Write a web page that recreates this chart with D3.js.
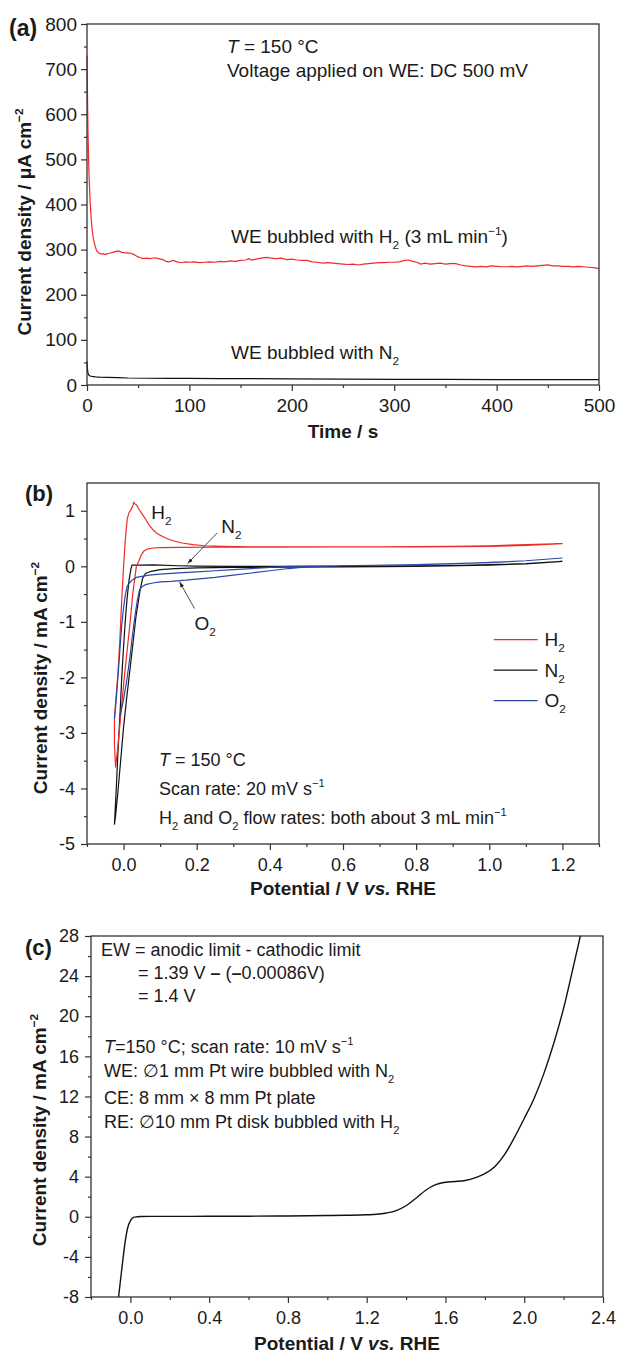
<!DOCTYPE html>
<html>
<head>
<meta charset="utf-8">
<script src="https://cdn.jsdelivr.net/npm/d3@7/dist/d3.min.js"></script>
<style>
  body { margin: 0; background: #fff; }
  text { font-family: 'Liberation Sans', Arial, sans-serif; fill: #1a1a1a; }
</style>
</head>
<body>
<svg width="617" height="1353"></svg>
<script>
// ---- data ----
// (a) chronoamperometry, [time s, current uA cm-2]
const h2Trace = [[0,730],[0.5,640],[1,560],[1.5,505],[2,465],[3,410],[4,372],[5,345],[6,328],[7,316],[8,307],[9,301],[10,296],[12,292],[14,290],[16,291],[18,289],[20,291],[22,292],[25,294],[28,296],[31,297],[34,294],[37,293],[40,293],[43,292],[46,289],[49,285],[52,282],[55,280],[58,281],[62,280],[66,282],[70,280],[74,278],[77,274],[80,273],[84,276],[88,273],[92,271],[96,273],[100,272],[105,273],[110,271],[115,272],[120,273],[125,272],[130,274],[135,273],[140,275],[145,274],[150,276],[155,277],[158,280],[161,277],[165,279],[170,281],[175,283],[180,281],[185,280],[190,281],[195,278],[200,279],[205,277],[210,276],[215,276],[220,273],[225,272],[230,270],[235,271],[240,270],[245,269],[250,268],[255,267],[260,268],[265,266],[270,268],[275,269],[280,270],[285,271],[290,271],[295,272],[300,272],[305,273],[310,276],[314,277],[318,274],[322,272],[326,268],[330,270],[335,268],[340,269],[345,270],[350,268],[355,269],[360,269],[365,266],[370,264],[375,263],[380,262],[385,263],[390,262],[395,264],[400,263],[405,262],[410,262],[415,263],[420,262],[425,263],[430,264],[435,263],[440,264],[445,265],[450,266],[455,264],[460,264],[465,263],[470,263],[475,262],[480,263],[485,262],[490,261],[495,260],[500,258]];
const n2Trace = [[0,52],[0.3,40],[0.7,30],[1,26],[1.5,23],[2,21.5],[3,20],[5,19],[8,18],[12,17.5],[20,17],[30,16.5],[40,15.5],[60,15],[80,14.5],[100,14.5],[130,14],[160,14],[200,13.5],[250,13],[300,12.5],[350,12.5],[400,12],[450,12],[500,12]];

// (b) cyclic voltammograms, [potential V, current mA cm-2]
const cvH2 = [[-0.025,-2.75],[-0.02,-2.3],[-0.015,-1.9],[-0.01,-1.3],[-0.005,-0.6],[0.0,0.0],[0.005,0.5],[0.01,0.85],[0.015,0.97],[0.02,1.02],[0.025,1.08],[0.028,1.15],[0.032,1.12],[0.036,1.1],[0.04,1.05],[0.045,1.0],[0.05,0.95],[0.055,0.9],[0.062,0.83],[0.07,0.74],[0.08,0.66],[0.09,0.6],[0.1,0.56],[0.115,0.51],[0.135,0.46],[0.16,0.42],[0.19,0.39],[0.22,0.37],[0.27,0.36],[0.35,0.35],[0.5,0.35],[0.7,0.35],[0.9,0.36],[1.0,0.37],[1.1,0.39],[1.2,0.41],
  [1.1,0.375],[1.0,0.36],[0.8,0.35],[0.6,0.35],[0.4,0.345],[0.25,0.345],[0.15,0.34],[0.1,0.335],[0.08,0.33],[0.065,0.31],[0.055,0.27],[0.048,0.2],[0.042,0.1],[0.035,0.0],[0.025,-0.5],[0.018,-1.0],[0.01,-1.5],[0.002,-2.0],[-0.008,-2.7],[-0.015,-3.2],[-0.022,-3.62],[-0.025,-3.2],[-0.025,-2.75]];
const cvN2 = [[-0.025,-4.65],[-0.02,-4.0],[-0.015,-3.3],[-0.01,-2.7],[-0.005,-2.0],[0.0,-1.45],[0.005,-0.95],[0.01,-0.55],[0.015,-0.25],[0.02,-0.05],[0.023,0.02],[0.03,0.02],[0.05,0.02],[0.08,0.025],[0.1,0.02],[0.15,0.01],[0.2,0.005],[0.3,0.0],[0.5,0.0],[0.7,0.005],[0.9,0.015],[1.0,0.03],[1.1,0.05],[1.2,0.09],
  [1.1,0.045],[1.0,0.02],[0.8,0.0],[0.6,-0.01],[0.45,-0.015],[0.3,-0.02],[0.2,-0.03],[0.14,-0.04],[0.1,-0.06],[0.075,-0.09],[0.06,-0.13],[0.052,-0.22],[0.046,-0.4],[0.04,-0.65],[0.034,-0.9],[0.028,-1.25],[0.022,-1.6],[0.015,-2.0],[0.008,-2.4],[0.0,-2.9],[-0.008,-3.5],[-0.016,-4.1],[-0.022,-4.5],[-0.025,-4.65]];
const cvO2 = [[-0.025,-2.75],[-0.02,-2.4],[-0.015,-1.95],[-0.01,-1.5],[-0.005,-1.05],[0.0,-0.75],[0.005,-0.5],[0.01,-0.36],[0.016,-0.3],[0.025,-0.24],[0.035,-0.2],[0.05,-0.18],[0.07,-0.16],[0.1,-0.14],[0.15,-0.12],[0.2,-0.1],[0.25,-0.08],[0.3,-0.06],[0.35,-0.04],[0.4,-0.02],[0.45,0.0],[0.6,0.01],[0.8,0.03],[0.9,0.045],[1.0,0.07],[1.1,0.1],[1.2,0.15],
  [1.1,0.1],[1.0,0.065],[0.8,0.03],[0.6,0.01],[0.5,-0.01],[0.45,-0.04],[0.4,-0.08],[0.35,-0.12],[0.3,-0.16],[0.25,-0.2],[0.2,-0.23],[0.17,-0.25],[0.13,-0.27],[0.1,-0.28],[0.08,-0.3],[0.06,-0.33],[0.05,-0.37],[0.044,-0.42],[0.038,-0.6],[0.032,-0.85],[0.025,-1.2],[0.018,-1.6],[0.01,-2.0],[0.0,-2.4],[-0.01,-2.7]];

// (c) linear sweep, [potential V, current mA cm-2]
const lsv = [[-0.06,-8],[-0.05,-6.3],[-0.04,-4.6],[-0.03,-3.0],[-0.02,-1.7],[-0.01,-0.85],[0.0,-0.4],[0.01,-0.15],[0.02,-0.04],[0.035,0.0],[0.05,0.03],[0.1,0.04],[0.2,0.04],[0.4,0.05],[0.6,0.06],[0.8,0.08],[1.0,0.12],[1.1,0.15],[1.2,0.2],[1.25,0.25],[1.3,0.38],[1.35,0.62],[1.4,1.1],[1.45,1.85],[1.5,2.65],[1.55,3.2],[1.6,3.45],[1.65,3.52],[1.7,3.62],[1.75,3.88],[1.8,4.3],[1.85,5.0],[1.9,6.2],[1.95,7.9],[2.0,9.8],[2.05,11.8],[2.1,14.3],[2.15,17.3],[2.2,20.8],[2.25,25.0],[2.285,28]];

// tick values
const aXTicks = [0, 100, 200, 300, 400, 500];
const aYTicks = [0, 100, 200, 300, 400, 500, 600, 700, 800];
const bXTicks = [0, 0.2, 0.4, 0.6, 0.8, 1.0, 1.2];
const bYTicks = [-5, -4, -3, -2, -1, 0, 1];
const cXTicks = [0, 0.4, 0.8, 1.2, 1.6, 2.0, 2.4];
const cYTicks = [-8, -4, 0, 4, 8, 12, 16, 20, 24, 28];

const legendB = [['H', '2', '#f02a2a'], ['N', '2', '#111'], ['O', '2', '#2b48a8']];

const svg = d3.select('svg');

// text with sub/superscripts, parts: "str" or [str, 'sub'|'sup'|'i'|'b']
function rich(x, y, parts, size, opts) {
  opts = opts || {};
  const t = svg.append('text').attr('font-size', size);
  if (opts.rotate) t.attr('transform', `translate(${x},${y}) rotate(-90)`);
  else t.attr('x', x).attr('y', y);
  if (opts.weight) t.attr('font-weight', opts.weight);
  if (opts.anchor) t.attr('text-anchor', opts.anchor);
  let shift = 0;
  parts.forEach(p => {
    const s = typeof p === 'string' ? p : p[0];
    const k = typeof p === 'string' ? '' : p[1];
    const target = k === 'sub' ? size * 0.32 : k === 'sup' ? -size * 0.42 : 0;
    const ts = t.append('tspan').text(s).attr('dy', target - shift);
    shift = target;
    if (k === 'sub' || k === 'sup') ts.attr('font-size', size * 0.62);
    if (k === 'i') ts.attr('font-style', 'italic');
    if (k === 'b') ts.attr('font-weight', 'bold');
  });
  return t;
}

function minorOf(step, lo, hi) {
  return d3.range(lo, hi + step / 2, step);
}

function axes(x, y, o) {
  const [x0, x1] = x.range();
  const [y0, y1] = y.range();
  const g = svg.append('g');
  const ax = (gen, vals, size, fmt, tr, pad) => g.append('g')
    .attr('transform', tr)
    .call(gen.tickValues(vals).tickSize(size).tickPadding(pad).tickFormat(fmt))
    .call(s => s.select('.domain').remove());
  ax(d3.axisBottom(x), o.xMinor, 3, () => '', `translate(0,${y0})`, 0);
  ax(d3.axisBottom(x), o.xMajor, 6, o.xFmt, `translate(0,${y0})`, 8);
  ax(d3.axisLeft(y), o.yMinor, 3, () => '', `translate(${x0},0)`, 0);
  ax(d3.axisLeft(y), o.yMajor, 6, o.yFmt, `translate(${x0},0)`, o.yPad);
  g.selectAll('.tick line').attr('stroke', '#333').attr('stroke-width', 1.2);
  g.selectAll('.tick text').attr('font-size', o.fs || 18).attr('fill', '#1a1a1a')
    .attr('font-family', "'Liberation Sans', Arial, sans-serif");
  g.append('rect')
    .attr('x', x0).attr('y', y1).attr('width', x1 - x0).attr('height', y0 - y1)
    .attr('fill', 'none').attr('stroke', '#333').attr('stroke-width', 1.3);
}

const line = (x, y) => d3.line().x(d => x(d[0])).y(d => y(d[1]));

// ================= (a) =================
const xa = d3.scaleLinear([0, 500], [87, 599]);
const ya = d3.scaleLinear([0, 800], [385, 24]);

svg.append('path').datum(n2Trace).attr('d', line(xa, ya))
  .attr('fill', 'none').attr('stroke', '#111').attr('stroke-width', 1.2);
svg.append('path').datum(h2Trace).attr('d', line(xa, ya))
  .attr('fill', 'none').attr('stroke', '#f02a2a').attr('stroke-width', 1.2);

axes(xa, ya, {
  xMajor: aXTicks, xMinor: minorOf(100, 50, 450), xFmt: d => d,
  yMajor: aYTicks, yMinor: minorOf(100, 50, 750), yFmt: d => d, yPad: 4, fs: 19
});

rich(9, 36, ['(a)'], 23, { weight: 'bold' });
rich(343, 438, ['Time / s'], 19, { weight: 'bold', anchor: 'middle' });
rich(31, 222, ['Current density / \u03bcA cm', ['\u22122', 'sup']], 19, { weight: 'bold', anchor: 'middle', rotate: true });
rich(227, 53, [['T', 'i'], ' = 150 \u00b0C'], 19);
rich(227, 77, ['Voltage applied on WE: DC 500 mV'], 19);
rich(231, 243, ['WE bubbled with H', ['2', 'sub'], ' (3 mL min', ['\u22121', 'sup'], ')'], 19);
rich(231, 359, ['WE bubbled with N', ['2', 'sub']], 19);

// ================= (b) =================
const xb = d3.scaleLinear([-0.1, 1.3], [87, 599]);
const yb = d3.scaleLinear([-5, 1.5], [844, 483]);

[[cvN2, '#111'], [cvH2, '#f02a2a'], [cvO2, '#2b48a8']].forEach(([d, c]) => {
  svg.append('path').datum(d).attr('d', line(xb, yb))
    .attr('fill', 'none').attr('stroke', c).attr('stroke-width', 1.2);
});

axes(xb, yb, {
  xMajor: bXTicks, xMinor: minorOf(0.2, -0.1, 1.3), xFmt: d => d.toFixed(1),
  yMajor: bYTicks, yMinor: minorOf(1, -4.5, 0.5), yFmt: d => String(d), yPad: 6
});

// arrows
svg.append('defs').append('marker').attr('id', 'arr')
  .attr('viewBox', '0 0 10 10').attr('refX', 10).attr('refY', 5)
  .attr('markerWidth', 7).attr('markerHeight', 7).attr('orient', 'auto')
  .append('path').attr('d', 'M0,1.5L10,5L0,8.5z').attr('fill', '#222');
[[[0.256, 0.6], [0.175, 0.05]], [[0.194, -0.76], [0.153, -0.28]]].forEach(([a, b]) => {
  svg.append('line').attr('x1', xb(a[0])).attr('y1', yb(a[1]))
    .attr('x2', xb(b[0])).attr('y2', yb(b[1]))
    .attr('stroke', '#222').attr('stroke-width', 0.8).attr('marker-end', 'url(#arr)');
});
rich(xb(0.076), yb(0.86), ['H', ['2', 'sub']], 19);
rich(xb(0.267), yb(0.6), ['N', ['2', 'sub']], 19);
rich(xb(0.194), yb(-1.15), ['O', ['2', 'sub']], 19);

legendB.forEach(([s, sub, c], i) => {
  const ly = yb(-1.32 - i * 0.55);
  svg.append('line').attr('x1', xb(1.012)).attr('x2', xb(1.132)).attr('y1', ly).attr('y2', ly)
    .attr('stroke', c).attr('stroke-width', 1.3);
  rich(xb(1.151), ly + 6.5, [s, [sub, 'sub']], 19);
});

rich(25, 501, ['(b)'], 22, { weight: 'bold' });
rich(343, 895, ['Potential / V ', ['vs.', 'i'], ' RHE'], 19, { weight: 'bold', anchor: 'middle' });
rich(47, 678, ['Current density / mA cm', ['\u22122', 'sup']], 19, { weight: 'bold', anchor: 'middle', rotate: true });
rich(159, 766, [['T', 'i'], ' = 150 \u00b0C'], 18);
rich(159, 795, ['Scan rate: 20 mV s', ['\u22121', 'sup']], 18);
rich(159, 824, ['H', ['2', 'sub'], ' and O', ['2', 'sub'], ' flow rates: both about 3 mL min', ['\u22121', 'sup']], 18);

// ================= (c) =================
const xc = d3.scaleLinear([-0.2, 2.4], [91, 603]);
const yc = d3.scaleLinear([-8, 28], [1297, 936]);

svg.append('path').datum(lsv).attr('d', line(xc, yc).curve(d3.curveMonotoneX))
  .attr('fill', 'none').attr('stroke', '#111').attr('stroke-width', 1.4);

axes(xc, yc, {
  xMajor: cXTicks, xMinor: minorOf(0.4, -0.2, 2.2), xFmt: d => d.toFixed(1),
  yMajor: cYTicks, yMinor: minorOf(4, -6, 26), yFmt: d => String(d), yPad: 6
});

rich(25, 955, ['(c)'], 22, { weight: 'bold' });
rich(347, 1350, ['Potential / V ', ['vs.', 'i'], ' RHE'], 19, { weight: 'bold', anchor: 'middle' });
rich(46, 1130, ['Current density / mA cm', ['\u22122', 'sup']], 19, { weight: 'bold', anchor: 'middle', rotate: true });
rich(101, 956, ['EW = anodic limit - cathodic limit'], 18);
rich(138, 979, ['= 1.39 V ', ['\u2013', 'b'], ' (', ['\u2013', 'b'], '0.00086V)'], 18);
rich(138, 1002, ['= 1.4 V'], 18);
rich(104, 1053, [['T', 'i'], '=150 \u00b0C; scan rate: 10 mV s', ['\u22121', 'sup']], 18);
rich(104, 1077, ['WE: \u22051 mm Pt wire bubbled with N', ['2', 'sub']], 18);
rich(104, 1104, ['CE: 8 mm \u00d7 8 mm Pt plate'], 18);
rich(104, 1128, ['RE: \u220510 mm Pt disk bubbled with H', ['2', 'sub']], 18);
</script>
</body>
</html>
